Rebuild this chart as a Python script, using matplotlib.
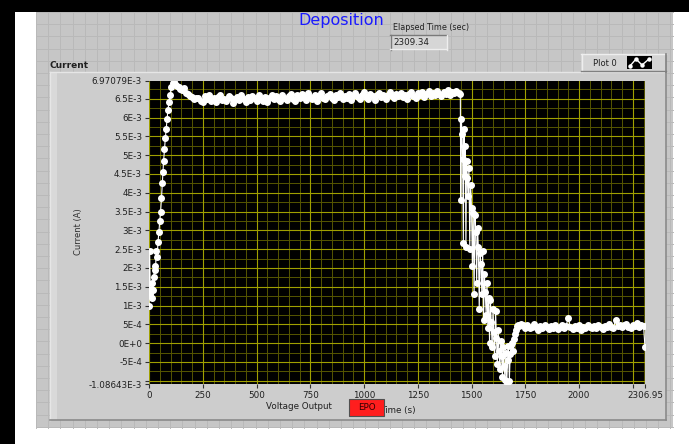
import matplotlib
matplotlib.use("Agg")
import matplotlib.pyplot as plt
from matplotlib.patches import Rectangle
from matplotlib.lines import Line2D
import numpy as np

# ---------------- data (time in s, current in mA) ----------------
t_rise = [0, 3, 6, 9, 12, 15, 18, 22, 26, 30, 34, 38, 42, 46, 50, 54, 58, 62, 65, 68,
          72, 76, 80, 84, 88, 93, 98, 104, 110, 116, 122, 130, 138, 146, 154, 162, 170,
          180, 190, 200, 210, 220]
v_rise = [1.00, 2.45, 1.30, 1.45, 1.20, 1.60, 1.40, 1.75, 2.05, 1.95, 2.45, 2.30, 2.70,
          2.95, 3.25, 3.50, 3.85, 4.25, 4.55, 4.85, 5.15, 5.45, 5.70, 5.95, 6.20, 6.40,
          6.60, 6.80, 6.92, 6.95, 6.88, 6.84, 6.80, 6.76, 6.72, 6.78, 6.66, 6.62, 6.58,
          6.55, 6.50, 6.53]

t_plateau = [230, 240, 250, 260, 270, 280, 290, 300, 310, 320, 330, 340,
             350, 360, 370, 380, 390, 400, 410, 420, 430, 440, 450, 460,
             470, 480, 490, 500, 510, 520, 530, 540, 550, 560, 570, 580,
             590, 600, 610, 620, 630, 640, 650, 660, 670, 680, 690, 700,
             710, 720, 730, 740, 750, 760, 770, 780, 790, 800, 810, 820,
             830, 840, 850, 860, 870, 880, 890, 900, 910, 920, 930, 940,
             950, 960, 970, 980, 990, 1000, 1010, 1020, 1030, 1040, 1050, 1060,
             1070, 1080, 1090, 1100, 1110, 1120, 1130, 1140, 1150, 1160, 1170, 1180,
             1190, 1200, 1210, 1220, 1230, 1240, 1250, 1260, 1270, 1280, 1290, 1300,
             1310, 1320, 1330, 1340, 1350, 1360, 1370, 1380, 1390, 1400, 1410, 1420,
             1430, 1440]
v_plateau = [6.52, 6.45, 6.42, 6.56, 6.48, 6.60, 6.44, 6.51, 6.41, 6.54, 6.59, 6.47,
             6.50, 6.43, 6.57, 6.52, 6.39, 6.49, 6.55, 6.46, 6.61, 6.50, 6.42, 6.54,
             6.47, 6.58, 6.51, 6.43, 6.60, 6.50, 6.45, 6.55, 6.40, 6.52, 6.59, 6.48,
             6.56, 6.50, 6.44, 6.61, 6.53, 6.46, 6.57, 6.63, 6.50, 6.43, 6.59, 6.52,
             6.62, 6.54, 6.47, 6.64, 6.55, 6.49, 6.59, 6.45, 6.57, 6.65, 6.53, 6.48,
             6.58, 6.63, 6.52, 6.46, 6.60, 6.55, 6.66, 6.49, 6.58, 6.53, 6.62, 6.47,
             6.56, 6.64, 6.54, 6.48, 6.60, 6.67, 6.55, 6.50, 6.62, 6.57, 6.47, 6.59,
             6.65, 6.54, 6.61, 6.50, 6.59, 6.68, 6.56, 6.51, 6.62, 6.57, 6.66, 6.55,
             6.60, 6.50, 6.63, 6.69, 6.57, 6.52, 6.64, 6.59, 6.68, 6.55, 6.62, 6.70,
             6.58, 6.66, 6.60, 6.71, 6.62, 6.56, 6.68, 6.63, 6.72, 6.61, 6.69, 6.64,
             6.70, 6.65]

t_drop = [1448, 1450, 1453, 1456, 1459, 1462, 1465, 1468, 1471, 1474, 1477, 1480, 1484,
          1488, 1492, 1496, 1500, 1504, 1508, 1512, 1516, 1520, 1524, 1528, 1532, 1536,
          1540, 1544, 1548, 1552, 1556, 1560, 1564, 1568, 1572, 1576, 1580, 1584, 1588,
          1592, 1596, 1600, 1604, 1608, 1612, 1616, 1620, 1624, 1628, 1632, 1636, 1640,
          1644, 1648, 1652, 1656, 1660, 1664, 1668, 1672, 1676, 1680, 1684, 1688, 1692,
          1696, 1700, 1705, 1710, 1715]
v_drop = [6.62, 3.80, 5.95, 5.55, 4.90, 2.65, 5.70, 4.45, 5.25, 2.55, 4.85, 4.40, 3.90,
          4.65, 2.50, 4.20, 3.60, 2.05, 3.45, 1.30, 3.40, 2.95, 1.60, 3.05, 2.55, 0.90,
          2.40, 2.10, 1.30, 2.45, 0.62, 1.85, 1.35, 0.75, 1.60, 0.40, 1.20, 0.00, 1.15,
          0.55, -0.10, 0.90, 0.30, -0.35, 0.85, 0.15, -0.55, 0.35, -0.20, -0.70, 0.05,
          -0.35, -0.90, -0.10, -0.60, -0.97, -0.25, -1.05, -0.45, -0.08, -1.00, -0.30,
          -0.05, 0.00, -0.20, 0.10, 0.25, 0.35, 0.45, 0.48]

t_low = [1720, 1730, 1740, 1750, 1760, 1770, 1780, 1790, 1800, 1810, 1820, 1830,
         1840, 1850, 1860, 1870, 1880, 1890, 1900, 1910, 1920, 1930, 1940, 1950,
         1960, 1970, 1980, 1990, 2000, 2010, 2020, 2030, 2040, 2050, 2060, 2070,
         2080, 2090, 2100, 2110, 2120, 2130, 2140, 2150, 2160, 2170, 2180, 2190,
         2200, 2210, 2220, 2230, 2240, 2250, 2260, 2270, 2280, 2290, 2300, 2306.95]
v_low = [0.45, 0.52, 0.48, 0.41, 0.47, 0.39, 0.44, 0.50, 0.42, 0.36, 0.46, 0.40,
         0.48, 0.43, 0.37, 0.45, 0.41, 0.49, 0.38, 0.44, 0.47, 0.40, 0.46, 0.68,
         0.43, 0.38, 0.45, 0.41, 0.48, 0.36, 0.44, 0.40, 0.47, 0.42, 0.39, 0.46,
         0.41, 0.49, 0.43, 0.38, 0.46, 0.42, 0.50, 0.44, 0.40, 0.62, 0.45, 0.48,
         0.42, 0.47, 0.51, 0.44, 0.40, 0.49, 0.45, 0.53, 0.43, 0.48, 0.46, -0.10]

x_ticks = [0, 250, 500, 750, 1000, 1250, 1500, 1750, 2000, 2250, 2306.95]
x_ticklabels = ['0', '250', '500', '750', '1000', '1250', '1500', '1750', '2000', '', '2306.95']
y_ticks = [-1.08643, -1.0, -0.5, 0.0, 0.5, 1.0, 1.5, 2.0, 2.5, 3.0, 3.5, 4.0, 4.5, 5.0,
           5.5, 6.0, 6.5, 6.97079]
y_ticklabels = ['-1.08643E-3', '', '-5E-4', '0E+0', '5E-4', '1E-3', '1.5E-3', '2E-3',
                '2.5E-3', '3E-3', '3.5E-3', '4E-3', '4.5E-3', '5E-3', '5.5E-3', '6E-3',
                '6.5E-3', '6.97079E-3']

# ---------------- figure ----------------
W, H = 689, 444
fig = plt.figure(figsize=(W / 100, H / 100), dpi=100, facecolor='white')


def fx(x):
    return x / W


def fy(y):
    return 1 - y / H


def rect(x0, y0, x1, y1, fc, ec='none', lw=0, z=0):
    r = Rectangle((fx(x0), fy(y1)), fx(x1) - fx(x0), fy(y0) - fy(y1),
                  transform=fig.transFigure, facecolor=fc, edgecolor=ec, linewidth=lw,
                  zorder=z)
    fig.add_artist(r)
    return r


def hline(x0, x1, y, c, lw=1, z=1):
    fig.add_artist(Line2D([fx(x0), fx(x1)], [fy(y), fy(y)], transform=fig.transFigure,
                          color=c, linewidth=lw, zorder=z))


def vline(x, y0, y1, c, lw=1, z=1):
    fig.add_artist(Line2D([fx(x), fx(x)], [fy(y0), fy(y1)], transform=fig.transFigure,
                          color=c, linewidth=lw, zorder=z))


# black borders of screenshot
rect(0, 0, W, 12, 'black', z=0)
rect(0, 0, 15, H, 'black', z=0)

# front panel
rect(36, 12, 673, 428, '#c6c6c6', z=0.1)
for gx in np.arange(36, 673, 12.2):
    vline(gx, 12, 428, '#b9b9b9', lw=0.7, z=0.2)
for gy in np.arange(12, 428, 12.2):
    hline(36, 673, gy, '#b9b9b9', lw=0.7, z=0.2)

# graph frame
rect(50, 72, 666, 420, '#cdcdcd', z=0.5)
rect(50, 72, 57, 420, '#d9d9d9', z=0.55)
hline(50, 666, 72.5, '#e6e6e6', lw=1, z=0.6)
vline(50.5, 72, 420, '#e6e6e6', lw=1, z=0.6)
hline(50, 666, 419.5, '#8a8a8a', lw=1.2, z=0.6)
vline(665.5, 72, 420, '#8a8a8a', lw=1.2, z=0.6)

# title and indicators
fig.text(fx(341), fy(21), 'Deposition', color='#1a1aff', fontsize=11.5,
         ha='center', va='center', zorder=3)
fig.text(fx(393), fy(27), 'Elapsed Time (sec)', color='#202020', fontsize=5.8,
         ha='left', va='center', zorder=3)
rect(390, 35, 447, 50, '#d6d6d6', z=2)
hline(390, 447, 35.5, '#7a7a7a', lw=1, z=2.1)
vline(390.5, 35, 50, '#7a7a7a', lw=1, z=2.1)
hline(390, 447, 49.5, '#eeeeee', lw=1, z=2.1)
vline(446.5, 35, 50, '#eeeeee', lw=1, z=2.1)
fig.text(fx(393), fy(42.5), '2309.34', color='#202020', fontsize=6.3,
         ha='left', va='center', zorder=3)

fig.text(fx(50), fy(65), 'Current', color='#202020', fontsize=6.5, fontweight='bold',
         ha='left', va='center', zorder=3)

# legend "Plot 0"
rect(581, 54, 666, 72, '#d4d4d4', z=2)
hline(581, 666, 54.5, '#eeeeee', lw=1, z=2.1)
vline(581.5, 54, 72, '#eeeeee', lw=1, z=2.1)
vline(665.5, 54, 72, '#808080', lw=1.2, z=2.1)
hline(581, 666, 71.5, '#808080', lw=1, z=2.1)
fig.text(fx(593), fy(63), 'Plot 0', color='#202020', fontsize=6,
         ha='left', va='center', zorder=3)
rect(627, 56, 652, 69, 'black', z=2.2)
fig.add_artist(Line2D([fx(630), fx(636), fx(642), fx(649)],
                      [fy(66), fy(59), fy(65), fy(59)], transform=fig.transFigure,
                      color='white', lw=1, marker='o', ms=2.2, zorder=2.3))

# axis titles
fig.text(fx(78), fy(232), 'Current (A)', color='#303030', fontsize=6, rotation=90,
         ha='center', va='center', zorder=3)
fig.text(fx(299), fy(406), 'Voltage Output', color='#202020', fontsize=6.3,
         ha='center', va='center', zorder=3)
fig.text(fx(398), fy(410), 'Time (s)', color='#202020', fontsize=6.3,
         ha='center', va='center', zorder=3)
rect(349, 399, 384, 416, '#ff1e1e', ec='#505050', lw=0.8, z=4)
fig.text(fx(366.5), fy(407.5), 'EPO', color='#300000', fontsize=6.3,
         ha='center', va='center', zorder=5)

# ---------------- plot area ----------------
ax = fig.add_axes([fx(149), fy(384), fx(645) - fx(149), fy(81) - fy(384)], zorder=1)
ax.set_facecolor('black')
ax.set_xlim(0, 2306.95)
ax.set_ylim(-1.08643, 6.97079)

minor_col = '#555500'
major_col = '#a0a000'
for gx in np.arange(0, 2306.95, 50):
    ax.axvline(gx, color=minor_col, lw=0.7, zorder=0.5)
for gy in np.arange(-1.0, 6.97, 0.25):
    ax.axhline(gy, color=minor_col, lw=0.7, zorder=0.5)
for gx in x_ticks[:-1]:
    ax.axvline(gx, color=major_col, lw=0.8, zorder=0.6)
for gy in y_ticks[1:-1]:
    ax.axhline(gy, color=major_col, lw=0.8, zorder=0.6)

t_all = t_rise + t_plateau + t_drop + t_low
v_all = v_rise + v_plateau + v_drop + v_low
ax.plot(t_all, v_all, color='white', lw=0.8, marker='o', ms=4.0, mec='white',
        mfc='white', zorder=3, clip_on=True)

ax.set_xticks(x_ticks)
ax.set_xticklabels(x_ticklabels)
ax.set_yticks(y_ticks)
ax.set_yticklabels(y_ticklabels)
ax.tick_params(axis='both', colors='#303030', labelsize=6.3, length=3, width=0.8,
               pad=2, labelcolor='#202020')
for s in ax.spines.values():
    s.set_visible(False)

fig.savefig('out.png', dpi=100, facecolor='white')
